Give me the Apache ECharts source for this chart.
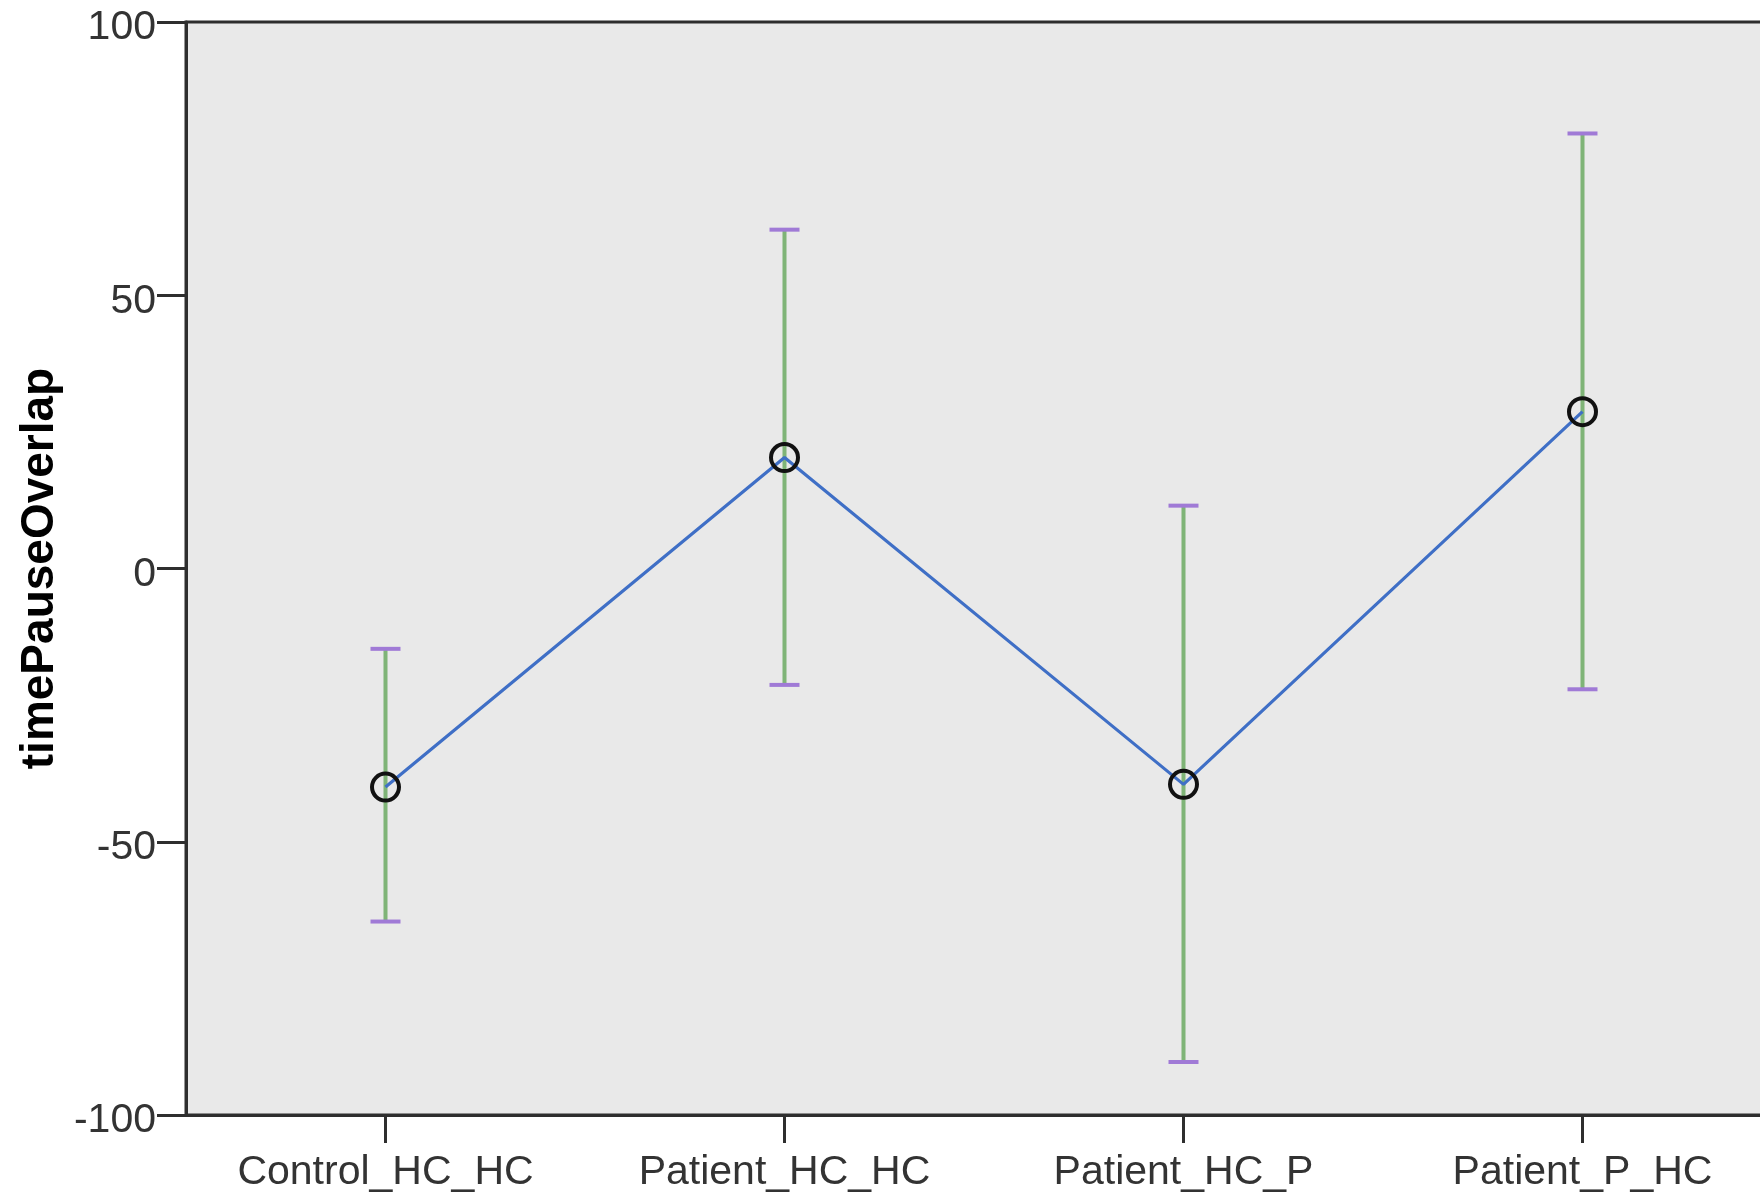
<!DOCTYPE html>
<html>
<head>
<meta charset="utf-8">
<script src="https://cdn.jsdelivr.net/npm/echarts@6/dist/echarts.min.js"></script>
<style>
html,body{margin:0;padding:0;background:#fff;overflow:hidden;width:1760px;height:1198px;}
#chart{width:1800px;height:1198px;}
</style>
</head>
<body>
<div id="chart"></div>
<script>
const categories = ['Control_HC_HC', 'Patient_HC_HC', 'Patient_HC_P', 'Patient_P_HC'];
const means = [-40.0, 20.3, -39.5, 28.7];
const upperCI = [-14.7, 62.0, 11.5, 79.6];
const lowerCI = [-64.6, -21.3, -90.3, -22.1];
const yTicks = [-100, -50, 0, 50, 100];
const yName = 'timePauseOverlap';

const errData = categories.map((c, i) => [i, lowerCI[i], upperCI[i]]);

const chart = echarts.init(document.getElementById('chart'), null, {renderer: 'canvas'});
const axisColor = '#2e2e2e';
const fontFam = 'Liberation Sans, Arial, sans-serif';

chart.setOption({
  animation: false,
  backgroundColor: '#ffffff',
  grid: {
    left: 186, top: 22, right: 18, bottom: 83,
    show: true, backgroundColor: '#e9e9e9',
    borderColor: axisColor, borderWidth: 3
  },
  xAxis: {
    type: 'category',
    data: categories,
    boundaryGap: true,
    axisLine: {show: true, onZero: false, lineStyle: {color: axisColor, width: 3}},
    axisTick: {show: true, alignWithLabel: true, length: 28, lineStyle: {color: axisColor, width: 3}},
    axisLabel: {color: '#333', fontSize: 41, fontFamily: fontFam, margin: 37, interval: 0},
    splitLine: {show: false}
  },
  yAxis: {
    type: 'value',
    min: yTicks[0], max: yTicks[yTicks.length - 1], interval: 50,
    name: yName,
    nameLocation: 'middle',
    nameGap: 118,
    nameTextStyle: {color: '#000', fontSize: 46, fontWeight: 'bold', fontFamily: fontFam},
    axisLine: {show: true, lineStyle: {color: axisColor, width: 3}},
    axisTick: {show: true, length: 29, lineStyle: {color: axisColor, width: 3}},
    axisLabel: {color: '#333', fontSize: 41, fontFamily: fontFam, margin: 30,
                verticalAlign: 'top', lineHeight: 12},
    splitLine: {show: false}
  },
  series: [
    {
      type: 'custom',
      name: 'CI',
      data: errData,
      z: 2,
      renderItem: function (params, api) {
        const x = api.value(0);
        const lo = api.coord([x, api.value(1)]);
        const hi = api.coord([x, api.value(2)]);
        const hw = 15;
        return {
          type: 'group',
          children: [
            {type: 'line', shape: {x1: lo[0], y1: lo[1], x2: hi[0], y2: hi[1]},
             style: {stroke: '#7fb477', lineWidth: 4}},
            {type: 'line', shape: {x1: hi[0] - hw, y1: hi[1], x2: hi[0] + hw, y2: hi[1]},
             style: {stroke: '#a07ad6', lineWidth: 4}},
            {type: 'line', shape: {x1: lo[0] - hw, y1: lo[1], x2: lo[0] + hw, y2: lo[1]},
             style: {stroke: '#a07ad6', lineWidth: 4}}
          ]
        };
      }
    },
    {
      type: 'line',
      name: 'Mean',
      data: means,
      z: 3,
      lineStyle: {color: '#3f6fc6', width: 3.2},
      symbol: 'circle',
      symbolSize: 27,
      showSymbol: true,
      itemStyle: {color: 'rgba(0,0,0,0)', borderColor: '#111', borderWidth: 4}
    }
  ]
});
</script>
</body>
</html>
